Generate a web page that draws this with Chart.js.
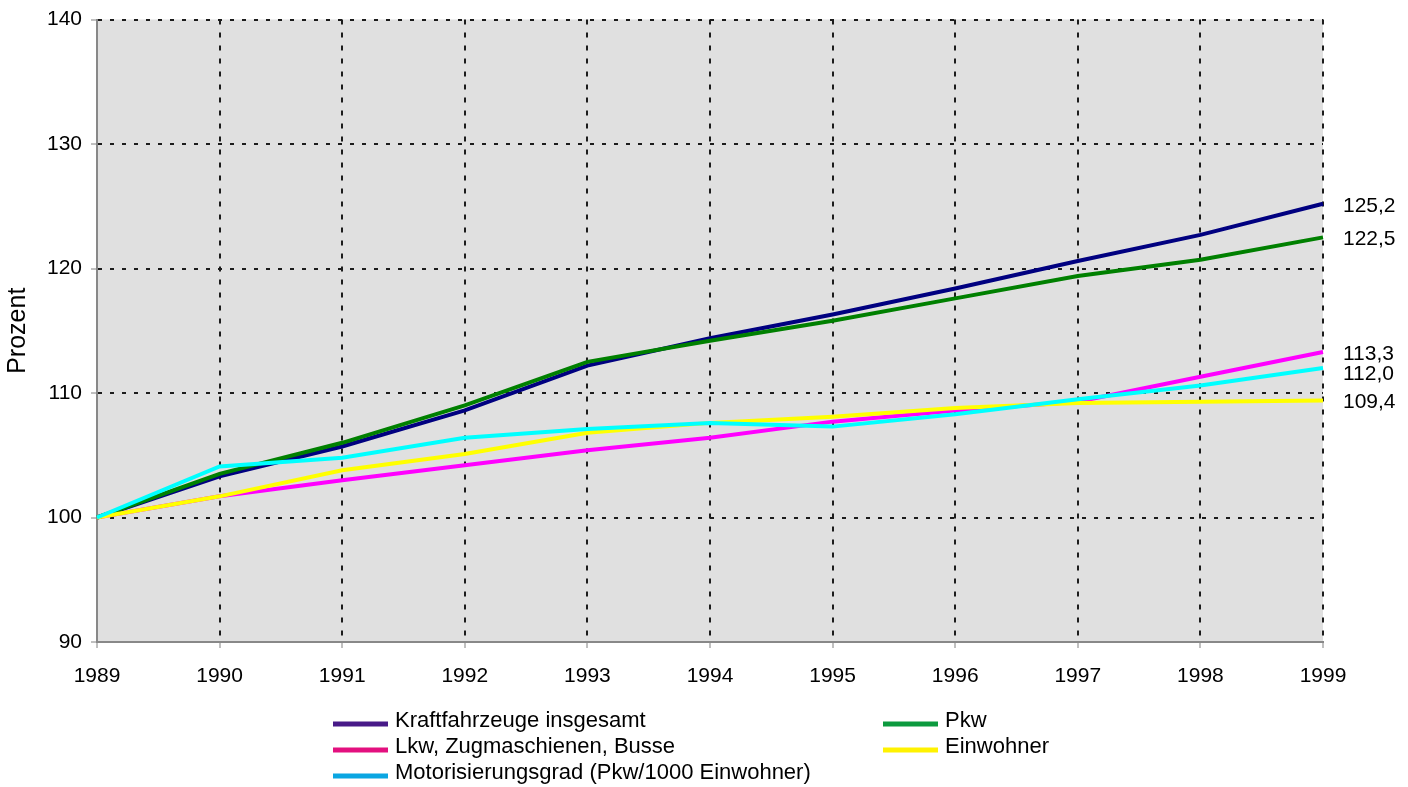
<!DOCTYPE html>
<html lang="de">
<head>
<meta charset="utf-8">
<title>Kraftfahrzeugbestand 1989–1999</title>
<script src="https://cdn.jsdelivr.net/npm/chart.js@4/dist/chart.umd.min.js"></script>
<style>
  html, body { margin: 0; padding: 0; background: #ffffff; }
  #wrap { width: 1408px; height: 787px; }
</style>
</head>
<body>
<div id="wrap"><canvas id="chart" width="1408" height="787"></canvas></div>
<script>
// Jahre (1989 = 100)
const years = ['1989', '1990', '1991', '1992', '1993', '1994', '1995', '1996', '1997', '1998', '1999'];

// Indexwerte in Prozent
const kfzGesamt   = [100, 103.3, 105.7, 108.6, 112.2, 114.4, 116.3, 118.4, 120.6, 122.7, 125.2];
const pkw         = [100, 103.5, 106.0, 109.0, 112.5, 114.2, 115.8, 117.6, 119.4, 120.7, 122.5];
const lkwBusse    = [100, 101.7, 103.0, 104.2, 105.4, 106.4, 107.7, 108.6, 109.3, 111.3, 113.3];
const einwohner   = [100, 101.7, 103.8, 105.1, 106.8, 107.6, 108.1, 108.8, 109.2, 109.3, 109.4];
const motorGrad   = [100, 104.1, 104.8, 106.4, 107.1, 107.6, 107.3, 108.3, 109.5, 110.6, 112.0];

// Achsenbereich
const yMin = 90;
const yMax = 140;
const yStep = 10;

const FONT = "'Liberation Sans', Arial, Helvetica, sans-serif";

const fmt = v => v.toFixed(1).replace('.', ',');

// grey plot background
const plotBackground = {
  id: 'plotBackground',
  beforeDraw(chart) {
    const { ctx, chartArea: a } = chart;
    ctx.save();
    ctx.fillStyle = '#e0e0e0';
    ctx.fillRect(a.left, a.top, a.right - a.left, a.bottom - a.top);
    ctx.restore();
  }
};

// value labels to the right of the last point of each line
const endLabels = {
  id: 'endLabels',
  afterDatasetsDraw(chart) {
    const { ctx } = chart;
    const items = [];
    chart.data.datasets.forEach((ds, i) => {
      const meta = chart.getDatasetMeta(i);
      const pt = meta.data[meta.data.length - 1];
      items.push({ text: fmt(ds.data[ds.data.length - 1]), x: pt.x, y: pt.y + 2 });
    });
    items.sort((a, b) => a.y - b.y);
    for (let i = 1; i < items.length; i++) {
      if (items[i].y - items[i - 1].y < 20) items[i].y = items[i - 1].y + 20;
    }
    ctx.save();
    ctx.font = '21px ' + FONT;
    ctx.fillStyle = '#000';
    ctx.textAlign = 'left';
    ctx.textBaseline = 'middle';
    items.forEach(it => ctx.fillText(it.text, it.x + 20, it.y));
    ctx.restore();
  }
};

// two-column legend below the x axis
const gridLegend = {
  id: 'gridLegend',
  afterDraw(chart) {
    const { ctx } = chart;
    const colX = [333, 883];
    const rowY = [721, 747, 773];
    const byLegend = chart.data.datasets.slice().sort((a, b) => a.legendIndex - b.legendIndex);
    ctx.save();
    ctx.font = '22px ' + FONT;
    ctx.textAlign = 'left';
    ctx.textBaseline = 'middle';
    byLegend.forEach((ds, i) => {
      const x = colX[i % 2];
      const y = rowY[Math.floor(i / 2)];
      ctx.strokeStyle = ds.legendColor;
      ctx.lineWidth = 5;
      ctx.beginPath();
      ctx.moveTo(x, y + 3);
      ctx.lineTo(x + 55, y + 3);
      ctx.stroke();
      ctx.fillStyle = '#000';
      ctx.fillText(ds.label, x + 62, y);
    });
    ctx.restore();
  }
};

const line = (label, data, color, legendColor, legendIndex, order) => ({
  label, data,
  borderColor: color,
  backgroundColor: color,
  borderWidth: 4,
  pointRadius: 0,
  pointHoverRadius: 0,
  tension: 0,
  fill: false,
  legendColor, legendIndex, order
});

new Chart(document.getElementById('chart'), {
  type: 'line',
  data: {
    labels: years,
    datasets: [
      line('Kraftfahrzeuge insgesamt', kfzGesamt, '#000080', '#481a88', 0, 3),
      line('Pkw', pkw, '#008000', '#0c9a3e', 1, 2),
      line('Lkw, Zugmaschienen, Busse', lkwBusse, '#ff00ff', '#e3107f', 2, 4),
      line('Einwohner', einwohner, '#ffff00', '#fff200', 3, 1),
      line('Motorisierungsgrad (Pkw/1000 Einwohner)', motorGrad, '#00ffff', '#0aa6e2', 4, 0)
    ]
  },
  options: {
    responsive: false,
    animation: false,
    devicePixelRatio: 1,
    layout: { padding: { top: 6, right: 85, bottom: 0, left: 0 } },
    plugins: {
      legend: { display: false },
      tooltip: { enabled: false }
    },
    scales: {
      x: {
        type: 'category',
        offset: false,
        grid: {
          color: '#1c1c1c',
          lineWidth: 2,
          tickLength: 6,
          tickColor: '#808080',
          tickWidth: 1,
          tickBorderDash: []
        },
        border: { display: true, color: '#888888', width: 2, dash: [5, 8] },
        ticks: {
          color: '#000',
          font: { family: FONT, size: 21 },
          padding: 16,
          maxRotation: 0,
          autoSkip: false
        },
        afterFit(scale) { scale.height = 145; }
      },
      y: {
        min: yMin,
        max: yMax,
        grid: {
          color: '#1c1c1c',
          lineWidth: 2,
          tickLength: 6,
          tickColor: '#808080',
          tickWidth: 1,
          tickBorderDash: []
        },
        border: { display: true, color: '#888888', width: 2, dash: [4, 8] },
        ticks: {
          stepSize: yStep,
          color: '#000',
          font: { family: FONT, size: 21, lineHeight: 1 },
          padding: 9
        },
        title: {
          display: true,
          text: 'Prozent',
          color: '#000',
          font: { family: FONT, size: 25 },
          padding: { top: 3, bottom: 0 }
        },
        afterFit(scale) { scale.width = 97; }
      }
    }
  },
  plugins: [plotBackground, endLabels, gridLegend]
});
</script>
</body>
</html>
